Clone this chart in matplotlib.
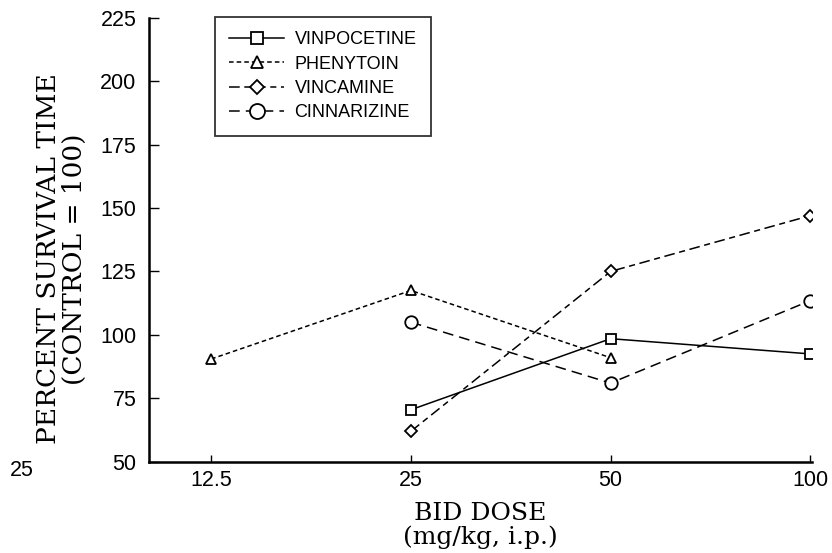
import matplotlib.pyplot as plt
from matplotlib.ticker import FixedLocator, FixedFormatter, NullLocator

dose_labels = ["12.5", "25", "50", "100"]
dose_ticks = [12.5, 25, 50, 100]

vinpocetine_x = [25, 50, 100]
vinpocetine_y = [70.5, 98.5, 92.5]
phenytoin_x = [12.5, 25, 50]
phenytoin_y = [90.5, 117.5, 91]
vincamine_x = [25, 50, 100]
vincamine_y = [62, 125, 147]
cinnarizine_x = [25, 50, 100]
cinnarizine_y = [105, 81, 113.5]

fig = plt.figure(figsize=(8.32, 5.53), dpi=100)
ax = fig.add_axes([0.179, 0.165, 0.797, 0.803])

mk = dict(color="black", markerfacecolor="white", markeredgecolor="black",
          markeredgewidth=1.3, linewidth=1.1)

ax.plot(vinpocetine_x, vinpocetine_y, marker="s", markersize=7.5,
        linestyle="-", label="VINPOCETINE", **mk)
ax.plot(phenytoin_x, phenytoin_y, marker="^", markersize=7.5,
        linestyle=(0, (3, 2)), label="PHENYTOIN", **mk)
ax.plot(vincamine_x, vincamine_y, marker="D", markersize=6,
        linestyle=(0, (7, 3, 4, 3)), label="VINCAMINE", **mk)
ax.plot(cinnarizine_x, cinnarizine_y, marker="o", markersize=9,
        linestyle=(0, (7, 4)), label="CINNARIZINE", **mk)

ax.set_xscale("log", base=2)
ax.set_xlim(10.07, 100.6)
ax.set_ylim(50, 225)
ax.xaxis.set_major_locator(FixedLocator(dose_ticks))
ax.xaxis.set_major_formatter(FixedFormatter(dose_labels))
ax.xaxis.set_minor_locator(NullLocator())
ax.set_yticks(range(50, 226, 25))

for s in ["top", "right"]:
    ax.spines[s].set_visible(False)
for s in ["left", "bottom"]:
    ax.spines[s].set_linewidth(1.8)

ax.tick_params(axis="y", direction="in", length=7, width=1, pad=9,
               labelsize=15.5, labelfontfamily="Liberation Sans")
ax.tick_params(axis="x", direction="in", length=5, width=1, pad=6,
               labelsize=15.5, labelfontfamily="Liberation Sans")

ax.set_xlabel("BID DOSE\n(mg/kg, i.p.)", family="DejaVu Serif", fontsize=18,
              linespacing=1.0, labelpad=8)
ax.set_ylabel("PERCENT SURVIVAL TIME\n(CONTROL = 100)", family="DejaVu Serif",
              fontsize=19, linespacing=1.05)
ax.yaxis.set_label_coords(-0.094, 0.457)

leg = ax.legend(loc="upper left", bbox_to_anchor=(215 / 832, 1 - 17 / 553),
                bbox_transform=fig.transFigure, borderaxespad=0,
                frameon=True, fancybox=False,
                edgecolor="black", handlelength=3.0, handletextpad=0.6,
                borderpad=0.8, labelspacing=0.4, markerscale=1.2,
                prop={"family": "Liberation Sans", "size": 13})
leg.get_frame().set_linewidth(1.3)

fig.text(22 / 832, 1 - 470 / 553, "25", family="Liberation Sans", fontsize=15.5,
         ha="center", va="center")

fig.savefig("out.png", dpi=100)
